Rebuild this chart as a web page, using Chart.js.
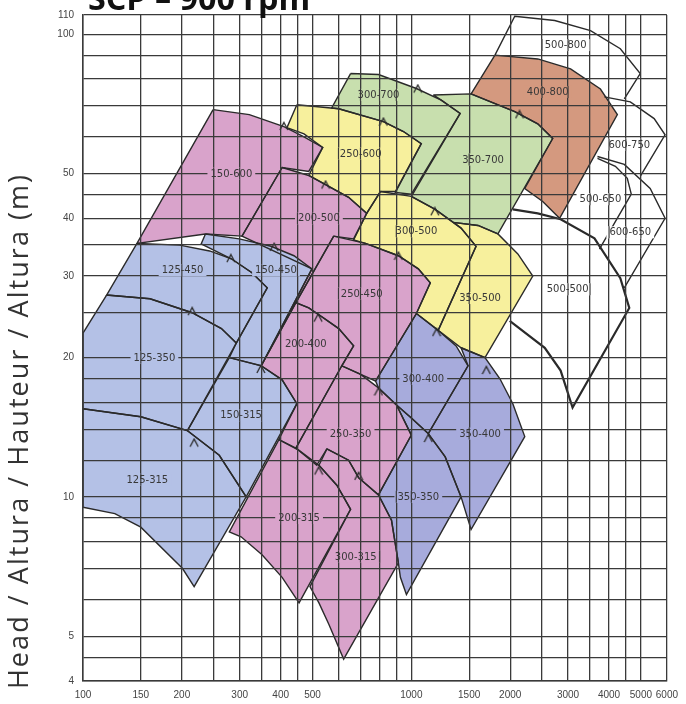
<!DOCTYPE html>
<html>
<head>
<meta charset="utf-8">
<script src="https://cdn.jsdelivr.net/npm/chart.js@4.4.1/dist/chart.umd.min.js"></script>
<style>
  html, body { margin: 0; padding: 0; background: #fff; }
</style>
</head>
<body>
<canvas id="c" width="686" height="704"></canvas>
<script>
// axes
const xGrid = [100,150,200,250,300,350,400,450,500,600,700,800,900,1000,1500,2000,2500,3000,3500,4000,4500,5000,6000];
const xLabels = [100,150,200,300,400,500,1000,1500,2000,3000,4000,5000,6000];
const yGrid = [4,4.5,5,6,7,8,9,10,12,14,16,18,20,25,30,35,40,45,50,60,70,80,90,100,110];
const yLabels = [4,5,10,20,30,40,50,100,110];

// pump ranges as [flow, head] outlines
const r125_315 = [[100,15.5],[150,14.9],[208,13.9],[260,12.3],[314,10],[218,6.4],[201,7],[150,8.6],[125,9.2],[100,9.5]];
const r125_350 = [[118,27.3],[160,26.8],[215,25],[264,23.1],[293,21.5],[208,13.9],[150,14.9],[100,15.5],[100,22.6]];
const r125_450 = [[146,35.3],[197,35],[243,34],[283,32.7],[327,30.5],[364,28.3],[293,21.5],[264,23.1],[215,25],[160,26.8],[118,27.3]];
const r150_315 = [[279,20],[349,19.2],[404,17.9],[448,15.9],[314,10],[260,12.3],[208,13.9]];
const r150_450 = [[236,37],[299,36.1],[374,34.8],[439,33.2],[498,31.1],[349,19.2],[279,20],[293,21.5],[364,28.3],[327,30.5],[283,32.7],[229,35.2]];
const r150_600 = [[249,68.7],[321,67],[409,63.1],[471,60],[537,56.9],[487,50.5],[404,51.5],[305,36.6],[236,37],[146,35.3]];
const r200_500 = [[404,51.5],[487,49.5],[548,47.3],[644,44.4],[731,41],[667,36.1],[580,36.6],[445,26.3],[349,19.2],[498,31.1],[305,36.6]];
const r200_400 = [[445,26.3],[487,25.6],[534,24.5],[601,23.1],[667,21.2],[614,19.2],[445,12.75],[395,13.3],[448,15.9],[404,17.9],[349,19.2]];
const r200_315 = [[395,13.3],[455,12.6],[523,11.7],[593,10.6],[653,9.4],[455,5.9],[404,6.7],[351,7.5],[303,8.2],[279,8.4]];
const r250_600 = [[448,70.4],[601,69],[822,64.7],[946,61.6],[1072,58],[894,45.7],[805,45.7],[731,41],[644,44.4],[548,47.3],[487,49.5],[537,56.9],[471,60.9],[418,62.8]];
const r250_450 = [[580,36.6],[725,35.3],[913,33.2],[1050,31.1],[1142,29],[1036,24.9],[778,17.8],[701,18.4],[614,19.2],[667,21.2],[601,23.1],[534,24.5],[487,25.6],[445,26.3]];
const r250_350 = [[614,19.2],[701,18.4],[794,17.2],[901,15.8],[1000,13.6],[794,10.1],[691,11],[644,12],[553,12.7],[515,11.7],[445,12.75]];
const r300_315 = [[553,12.7],[644,12],[691,11],[794,10.1],[870,8.9],[913,7.2],[622,4.46],[561,5.3],[523,5.9],[491,6.4],[653,9.4],[593,10.6],[523,11.7]];
const r300_400 = [[1036,24.9],[1207,22.9],[1369,21.2],[1488,19.2],[1126,13.7],[1000,14.8],[901,15.8],[794,17.2],[778,17.8]];
const r350_400 = [[1417,21],[1676,20],[1861,18],[2037,15.9],[2215,13.5],[1520,8.5],[1417,10],[1268,12.2],[1126,13.7],[1488,19.2]];
const r350_350 = [[901,15.8],[1000,14.8],[1126,13.7],[1268,12.2],[1417,10],[966,6.15],[926,6.7],[913,7.2],[870,8.9],[794,10.1],[1000,13.6]];
const r300_500 = [[805,45.7],[1000,44.6],[1182,41.8],[1417,38.1],[1574,34.8],[1207,22.9],[1036,24.9],[1142,29],[1050,31.1],[913,33.2],[725,35.3],[667,35.9],[731,41]];
const r350_500 = [[1341,39.2],[1596,38.6],[1835,37],[2110,33.5],[2343,30],[1676,20],[1417,21],[1207,22.9],[1574,34.8],[1417,38.1]];
const r300_700 = [[653,82.2],[794,81.8],[1036,76.3],[1233,72],[1408,67.4],[1000,45.1],[894,45.5],[1072,58],[946,61.6],[822,64.7],[601,69],[572,69.3]];
const r350_700 = [[1166,73.9],[1520,74.3],[2065,68],[2426,64],[2694,59.5],[1835,37],[1596,38.6],[1341,39.2],[1182,41.8],[1000,44.6],[1408,67.4],[1233,72]];
const r400_800 = [[1797,90.1],[2426,88.4],[3054,84.1],[3765,76.1],[4240,67],[2828,40],[2512,43.5],[2215,46.4],[2694,59.5],[2426,64],[2065,68],[1520,74.3]];
// ranges drawn as outlines only
const r500_800 = [[1797,90.1],[2065,109.3],[2732,107],[3512,101.8],[4329,93],[4977,82.2],[4451,72.5]];
const r600_750 = [[3872,73.2],[4642,71.4],[5488,65.7],[5925,60.6],[4977,49.3]];
const r600_650 = [[3688,54.4],[4451,52.3],[5337,46.4],[5925,40],[4451,28.3]];
const r500_650 = [[3688,53.9],[4181,51.8],[4546,48.8],[4674,45.1],[3739,34.3]];
const r500_500 = [[1993,24],[2548,21],[2848,18.75],[3097,15.6],[4610,25.6],[4329,29.7],[3611,36.2],[2848,39.8],[2426,41],[2037,41.8]];

// best efficiency marks
const bepQ = [218,215,282,382,348,409,548,822,1046,2135,1179,913,520,1193,1692,794,1126,522,691];
const bepH = [13.1,25.2,32.8,34.7,18.9,63.3,47.3,64.7,76.3,67.1,41.4,33.2,24.4,22.7,18.8,16.9,13.4,11.4,11.1];

// size labels
const tagText = ['125-315','125-350','125-450','150-315','150-450','150-600','200-500','200-400','200-315','250-600','250-450','250-350','300-315','300-400','350-400','350-350','300-500','350-500','300-700','350-700','400-800','500-800','600-750','500-650','600-650','500-500'];
const tagQ = [157,165,201,303,387,283,523,477,455,701,706,653,677,1087,1619,1050,1036,1619,794,1653,2602,2950,4610,3765,4642,2991];
const tagH = [10.9,20,30.9,15,30.9,50,40,21.4,9,55.2,27.5,13.7,7.43,18,13.7,10,37.5,26.9,73.9,53.6,75,94.7,57.7,44,37.3,28.1];

const BLUE = '#b4c1e6', PINK = '#d9a3cb', YELLOW = '#f7f09d', GREEN = '#c8dfae', BROWN = '#d4997f', VIOLET = '#a7abdc';
const EDGE = '#2a2a2a', GRID = '#3a3a3a';

const ranges = [
  ['125-315', r125_315, BLUE], ['125-350', r125_350, BLUE], ['125-450', r125_450, BLUE],
  ['150-315', r150_315, BLUE], ['150-450', r150_450, BLUE],
  ['150-600', r150_600, PINK], ['200-500', r200_500, PINK], ['200-400', r200_400, PINK],
  ['200-315', r200_315, PINK], ['250-450', r250_450, PINK], ['250-350', r250_350, PINK],
  ['300-315', r300_315, PINK],
  ['250-600', r250_600, YELLOW], ['300-500', r300_500, YELLOW], ['350-500', r350_500, YELLOW],
  ['300-400', r300_400, VIOLET], ['350-400', r350_400, VIOLET], ['350-350', r350_350, VIOLET],
  ['300-700', r300_700, GREEN], ['350-700', r350_700, GREEN],
  ['400-800', r400_800, BROWN],
  ['500-800', r500_800, null], ['600-750', r600_750, null], ['600-650', r600_650, null],
  ['500-650', r500_650, null], ['500-500', r500_500, null]
];
const bgOf = Object.fromEntries(ranges.map(r => [r[0], r[2] || '#fff']));

// little "^" mark
const chevron = document.createElement('canvas');
chevron.width = 10; chevron.height = 10;
(() => {
  const g = chevron.getContext('2d');
  g.strokeStyle = EDGE; g.lineWidth = 1.3;
  g.beginPath(); g.moveTo(1, 9); g.lineTo(5, 1.5); g.lineTo(9, 9); g.stroke();
})();

const datasets = ranges.map(([name, pts, col]) => {
  const data = pts.map(([q, h]) => ({ x: q, y: h }));
  if (col) data.push({ x: pts[0][0], y: pts[0][1] });
  return {
    label: name,
    data,
    showLine: true,
    tension: 0,
    borderColor: EDGE,
    borderWidth: name === '500-500' ? 2.2 : 1.4,
    backgroundColor: col || 'rgba(0,0,0,0)',
    fill: col ? 'shape' : false,
    pointRadius: 0,
    pointHoverRadius: 0
  };
});
datasets.push({
  label: 'bep',
  data: bepQ.map((q, i) => ({ x: q, y: bepH[i] })),
  showLine: false,
  pointStyle: chevron,
  pointRadius: 5
});

const overlay = {
  id: 'overlay',
  afterDraw(chart) {
    const { ctx } = chart;
    const xs = chart.scales.x, ys = chart.scales.y;
    ctx.save();
    ctx.font = '10px "DejaVu Sans"';
    ctx.textAlign = 'center';
    ctx.textBaseline = 'middle';
    tagText.forEach((t, i) => {
      const px = xs.getPixelForValue(tagQ[i]);
      const py = ys.getPixelForValue(tagH[i]);
      const w = ctx.measureText(t).width + 6;
      ctx.fillStyle = bgOf[t];
      ctx.fillRect(px - w / 2, py - 6, w, 12);
      // vertical grid keeps running through the label
      ctx.strokeStyle = GRID;
      ctx.lineWidth = 1.2;
      xGrid.forEach(v => {
        const gx = xs.getPixelForValue(v);
        if (gx > px - w / 2 && gx < px + w / 2) {
          ctx.beginPath(); ctx.moveTo(gx, py - 6); ctx.lineTo(gx, py + 6); ctx.stroke();
        }
      });
      ctx.fillStyle = '#383838';
      ctx.fillText(t, px, py + 0.5);
    });

    // title, cut at the top edge
    const title = 'SCP \u2013 900 rpm';
    ctx.font = 'bold 30px "Open Sans"';
    const tw = ctx.measureText(title).width;
    ctx.font = 'bold ' + (30 * 222 / tw).toFixed(1) + 'px "Open Sans"';
    ctx.textAlign = 'left';
    ctx.textBaseline = 'alphabetic';
    ctx.fillStyle = '#111';
    ctx.fillText(title, 88, 10);

    // axis title, stretched over the same length as in the picture
    const yTitle = 'Head / Altura / Hauteur / Altura (m)';
    ctx.translate(20, 431);
    ctx.rotate(-Math.PI / 2);
    ctx.font = '27px "Open Sans"';
    const yw = ctx.measureText(yTitle).width;
    if ('letterSpacing' in ctx && yw < 516) {
      ctx.letterSpacing = ((516 - yw) / yTitle.length).toFixed(2) + 'px';
    }
    ctx.textAlign = 'center';
    ctx.textBaseline = 'middle';
    ctx.fillStyle = '#333';
    ctx.fillText(yTitle, 0, 0);
    ctx.restore();
  }
};

const tickFont = { family: 'Liberation Sans', size: 10 };

new Chart(document.getElementById('c'), {
  type: 'scatter',
  data: { datasets },
  options: {
    responsive: false,
    animation: false,
    layout: { padding: { top: 14, right: 17, left: 0, bottom: 0 } },
    plugins: {
      legend: { display: false },
      tooltip: { enabled: false },
      filler: { drawTime: 'beforeDatasetsDraw' }
    },
    scales: {
      x: {
        type: 'logarithmic',
        min: 100,
        max: 6000,
        afterBuildTicks: s => { s.ticks = xGrid.map(v => ({ value: v })); },
        afterFit: s => { s.height = 23; },
        ticks: {
          autoSkip: false, maxRotation: 0, padding: 8, color: '#444', font: tickFont,
          callback: v => xLabels.includes(v) ? String(v) : ''
        },
        grid: { color: GRID, lineWidth: 1.3, drawTicks: false, z: 1 },
        border: { display: true, color: GRID, width: 1.5, z: 1 }
      },
      y: {
        type: 'logarithmic',
        min: 4,
        max: 110,
        afterBuildTicks: s => { s.ticks = yGrid.map(v => ({ value: v })); },
        afterFit: s => { s.width = 83; },
        ticks: {
          autoSkip: false, padding: 9, color: '#444', font: tickFont,
          callback: v => yLabels.includes(v) ? String(v) : ''
        },
        grid: { color: GRID, lineWidth: 1.3, drawTicks: false, z: 1 },
        border: { display: true, color: GRID, width: 1.5, z: 1 }
      }
    }
  },
  plugins: [overlay]
});
</script>
</body>
</html>
